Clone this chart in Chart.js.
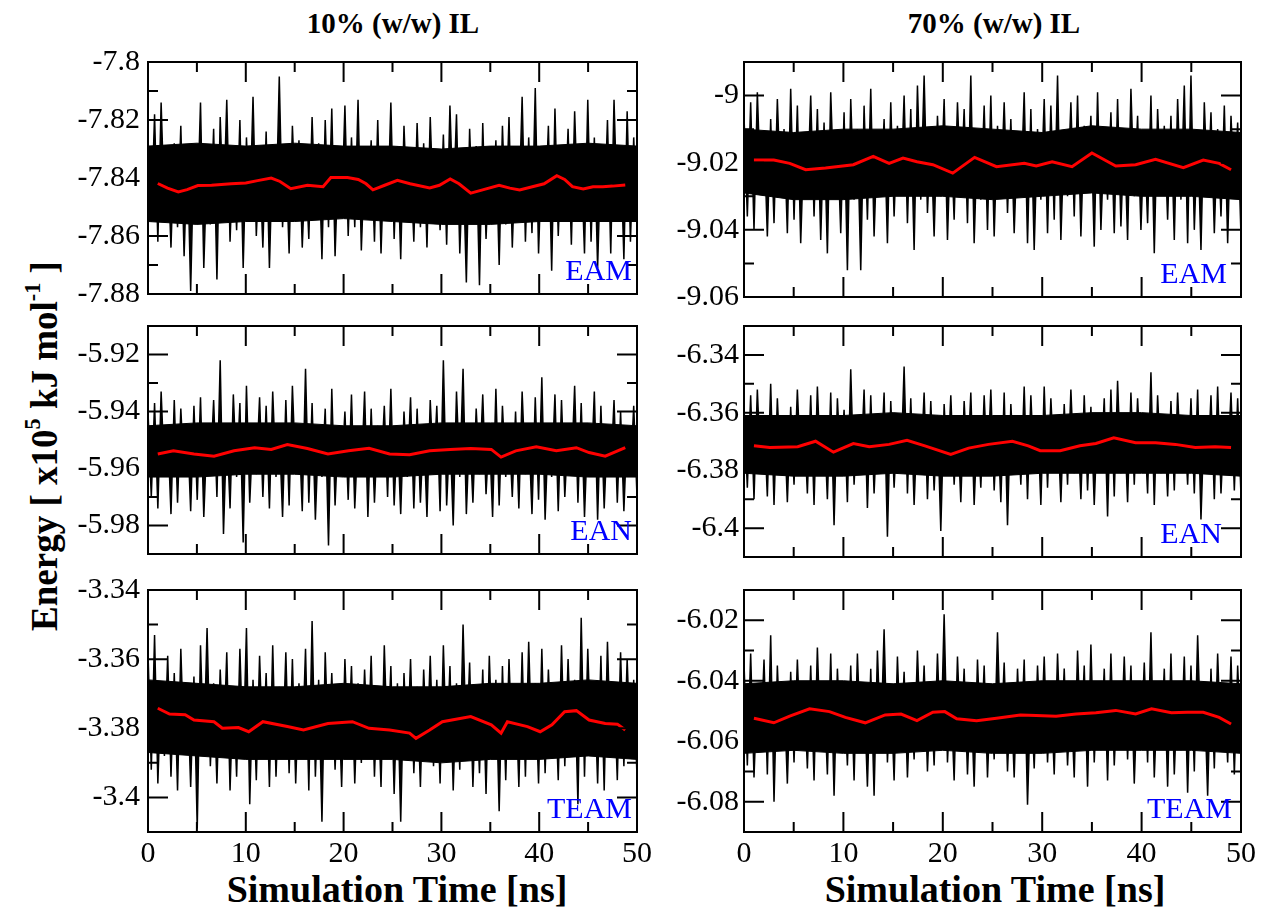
<!DOCTYPE html>
<html>
<head>
<meta charset="utf-8">
<script src="https://cdn.jsdelivr.net/npm/chart.js@4/dist/chart.umd.min.js"></script>
<style>
  html, body { margin: 0; padding: 0; background: #fff; }
  body { width: 1262px; height: 909px; position: relative; overflow: hidden; font-family: "Liberation Serif", "DejaVu Serif", serif; }
  canvas { position: absolute; }
  .txt { position: absolute; white-space: nowrap; line-height: 1; color: #000; font-weight: bold; }
  .col { font-size: 29px; top: 9px; transform: translateX(-50%); }
  .xt { font-size: 38px; top: 870px; transform: translateX(-50%); }
  #ylab { font-size: 37px; left: 44px; top: 446px; transform: translate(-50%, -50%) rotate(-90deg); }
  sup { font-size: 60%; vertical-align: 0.75em; line-height: 0; }
</style>
</head>
<body>
<div class="txt col" style="left:393px">10% (w/w) IL</div>
<div class="txt col" style="left:994px">70% (w/w) IL</div>
<div class="txt xt" style="left:397px">Simulation Time [ns]</div>
<div class="txt xt" style="left:995px">Simulation Time [ns]</div>
<div class="txt" id="ylab">Energy [ x10<sup>5</sup> kJ mol<sup>-1</sup> ]</div>

<script>
// x ticks (ns)
const xTicks = [0, 10, 20, 30, 40, 50];
// core band sample times (ns)
const coreT = [0, 5, 10, 15, 20, 25, 30, 35, 40, 45, 50];

// ---------- 10% EAM ----------
const yTicksTL = [-7.88, -7.86, -7.84, -7.82, -7.8];
const hiTL = [-7.826,-7.818,-7.814,-7.833,-7.828,-7.822,-7.831,-7.829,-7.814,-7.834,-7.823,-7.819,-7.813,-7.830,-7.820,-7.826,-7.812,-7.833,-7.824,-7.829,-7.805,-7.831,-7.822,-7.827,-7.834,-7.819,-7.828,-7.820,-7.816,-7.832,-7.815,-7.826,-7.813,-7.833,-7.827,-7.820,-7.831,-7.814,-7.829,-7.822,-7.834,-7.821,-7.828,-7.819,-7.832,-7.825,-7.815,-7.818,-7.833,-7.823,-7.829,-7.821,-7.834,-7.827,-7.822,-7.819,-7.831,-7.812,-7.826,-7.809,-7.832,-7.822,-7.816,-7.830,-7.823,-7.817,-7.833,-7.813,-7.826,-7.831,-7.820,-7.813,-7.829,-7.817,-7.826];
const loTL = [-7.855,-7.862,-7.851,-7.864,-7.857,-7.867,-7.879,-7.853,-7.871,-7.856,-7.875,-7.852,-7.862,-7.858,-7.871,-7.854,-7.860,-7.864,-7.871,-7.853,-7.857,-7.866,-7.851,-7.864,-7.861,-7.854,-7.868,-7.857,-7.867,-7.853,-7.860,-7.857,-7.865,-7.852,-7.862,-7.866,-7.854,-7.861,-7.868,-7.852,-7.862,-7.857,-7.864,-7.853,-7.858,-7.863,-7.851,-7.866,-7.876,-7.855,-7.877,-7.861,-7.853,-7.870,-7.856,-7.864,-7.852,-7.862,-7.859,-7.866,-7.853,-7.872,-7.860,-7.854,-7.863,-7.852,-7.866,-7.862,-7.871,-7.855,-7.866,-7.853,-7.868,-7.862,-7.856];
const coreHiTL = [-7.829,-7.828,-7.829,-7.828,-7.829,-7.829,-7.830,-7.829,-7.829,-7.828,-7.829];
const coreLoTL = [-7.855,-7.856,-7.855,-7.855,-7.854,-7.855,-7.856,-7.856,-7.855,-7.855,-7.855];
const avgTimeTL = [1,2,3.1,4,5.1,6.5,8.5,10,11.2,12.6,13.5,14.6,16.3,17.9,18.7,20.4,21.5,22.3,23,24.2,25.5,26.8,28.8,29.8,30.9,31.8,33,34.3,35.9,37,38,39.3,40.5,41.8,42.6,43.4,44.5,45.5,46.5,47.5,48.8];
const avgTL = [-7.8419,-7.8435,-7.8448,-7.8440,-7.8426,-7.8425,-7.8420,-7.8417,-7.8409,-7.8400,-7.8412,-7.8437,-7.8425,-7.8430,-7.8398,-7.8398,-7.8405,-7.8420,-7.8441,-7.8425,-7.8408,-7.8420,-7.8434,-7.8425,-7.8403,-7.8420,-7.8452,-7.8440,-7.8425,-7.8435,-7.8441,-7.8430,-7.8420,-7.8392,-7.8405,-7.8430,-7.8438,-7.8430,-7.8430,-7.8428,-7.8424];

// ---------- 70% EAM ----------
const yTicksTR = [-9.06, -9.04, -9.02, -9];
const hiTR = [-9.006,-9.002,-8.999,-9.011,-9.007,-9.001,-9.010,-8.998,-9.003,-9.012,-9.000,-9.004,-9.008,-8.999,-9.011,-9.005,-9.001,-9.010,-9.003,-8.998,-9.012,-9.007,-9.002,-9.009,-9.000,-9.004,-8.997,-8.994,-9.011,-9.006,-9.001,-9.010,-9.002,-9.004,-8.994,-9.011,-9.003,-9.000,-9.009,-9.002,-9.007,-9.012,-8.999,-9.004,-9.010,-9.001,-9.003,-8.994,-9.011,-9.002,-9.000,-9.009,-9.006,-8.999,-9.012,-9.005,-9.001,-9.010,-8.998,-9.006,-9.011,-9.000,-9.004,-9.009,-9.006,-9.001,-8.997,-8.994,-9.011,-9.002,-9.005,-9.010,-9.003,-9.006,-9.008];
const loTR = [-9.036,-9.040,-9.029,-9.042,-9.038,-9.030,-9.041,-9.037,-9.044,-9.030,-9.036,-9.043,-9.047,-9.029,-9.041,-9.052,-9.031,-9.052,-9.037,-9.042,-9.030,-9.044,-9.036,-9.029,-9.038,-9.046,-9.031,-9.035,-9.042,-9.030,-9.043,-9.037,-9.029,-9.038,-9.044,-9.031,-9.040,-9.042,-9.030,-9.035,-9.041,-9.029,-9.044,-9.046,-9.031,-9.041,-9.037,-9.043,-9.030,-9.036,-9.042,-9.029,-9.045,-9.040,-9.031,-9.041,-9.039,-9.043,-9.030,-9.040,-9.038,-9.047,-9.029,-9.037,-9.043,-9.031,-9.044,-9.040,-9.046,-9.030,-9.041,-9.036,-9.044,-9.029,-9.042];
const coreHiTR = [-9.010,-9.011,-9.010,-9.010,-9.009,-9.010,-9.011,-9.009,-9.010,-9.010,-9.011];
const coreLoTR = [-9.029,-9.031,-9.031,-9.030,-9.030,-9.031,-9.030,-9.029,-9.030,-9.030,-9.031];
const avgTimeTR = [1,3,4.6,6.2,8.2,11,13,14.6,16,17.4,19,21,23.2,25.4,28.2,29.4,31,33,35,37.4,39.4,41.4,44.2,46.2,47.8,49];
const avgTR = [-9.0192,-9.0192,-9.0202,-9.0221,-9.0216,-9.0206,-9.0181,-9.0202,-9.0186,-9.0197,-9.0206,-9.0231,-9.0184,-9.0212,-9.0202,-9.0210,-9.0197,-9.0212,-9.0171,-9.0210,-9.0206,-9.0190,-9.0215,-9.0192,-9.0202,-9.0221];

// ---------- 10% EAN ----------
const yTicksML = [-5.98, -5.96, -5.94, -5.92];
const hiML = [-5.940,-5.937,-5.933,-5.946,-5.936,-5.939,-5.945,-5.938,-5.935,-5.947,-5.936,-5.922,-5.945,-5.934,-5.937,-5.931,-5.946,-5.935,-5.938,-5.933,-5.946,-5.936,-5.931,-5.945,-5.925,-5.937,-5.946,-5.939,-5.932,-5.945,-5.940,-5.934,-5.947,-5.933,-5.939,-5.945,-5.938,-5.932,-5.946,-5.940,-5.935,-5.939,-5.945,-5.936,-5.938,-5.922,-5.946,-5.933,-5.925,-5.945,-5.939,-5.934,-5.947,-5.932,-5.938,-5.945,-5.940,-5.933,-5.946,-5.935,-5.928,-5.945,-5.934,-5.936,-5.946,-5.931,-5.937,-5.945,-5.933,-5.938,-5.946,-5.936,-5.940,-5.945,-5.938];
const loML = [-5.970,-5.974,-5.962,-5.976,-5.972,-5.963,-5.975,-5.971,-5.977,-5.962,-5.970,-5.983,-5.974,-5.963,-5.986,-5.972,-5.962,-5.970,-5.974,-5.963,-5.977,-5.973,-5.962,-5.975,-5.972,-5.978,-5.963,-5.987,-5.973,-5.962,-5.971,-5.974,-5.963,-5.977,-5.972,-5.962,-5.970,-5.973,-5.976,-5.963,-5.974,-5.972,-5.977,-5.962,-5.975,-5.973,-5.980,-5.963,-5.976,-5.972,-5.962,-5.969,-5.977,-5.973,-5.963,-5.970,-5.974,-5.962,-5.976,-5.971,-5.978,-5.963,-5.975,-5.970,-5.962,-5.972,-5.977,-5.963,-5.978,-5.974,-5.962,-5.972,-5.975,-5.963,-5.970];
const coreHiML = [-5.945,-5.944,-5.944,-5.944,-5.945,-5.945,-5.944,-5.944,-5.944,-5.944,-5.945];
const coreLoML = [-5.963,-5.963,-5.962,-5.962,-5.963,-5.963,-5.962,-5.962,-5.962,-5.963,-5.963];
const avgTimeML = [1,2.6,4.7,6.75,8.8,10.9,12.6,14.25,16.3,18.4,20.5,22.6,24.7,26.75,28.8,30.9,33,35.1,36.1,37.6,39.7,41.75,43.8,45.1,46.75,48.8];
const avgML = [-5.9549,-5.9538,-5.9549,-5.9557,-5.9538,-5.9527,-5.9533,-5.9516,-5.9530,-5.9549,-5.9538,-5.9529,-5.9549,-5.9552,-5.9538,-5.9533,-5.9530,-5.9533,-5.9560,-5.9538,-5.9524,-5.9538,-5.9527,-5.9544,-5.9557,-5.9527];

// ---------- 70% EAN ----------
const yTicksMR = [-6.4, -6.38, -6.36, -6.34];
const hiMR = [-6.358,-6.354,-6.352,-6.362,-6.350,-6.355,-6.361,-6.358,-6.352,-6.363,-6.354,-6.351,-6.362,-6.353,-6.355,-6.359,-6.345,-6.362,-6.352,-6.354,-6.361,-6.353,-6.356,-6.363,-6.344,-6.355,-6.362,-6.353,-6.356,-6.361,-6.357,-6.354,-6.362,-6.356,-6.353,-6.363,-6.354,-6.352,-6.361,-6.353,-6.357,-6.362,-6.351,-6.354,-6.361,-6.351,-6.355,-6.363,-6.357,-6.352,-6.362,-6.354,-6.358,-6.361,-6.355,-6.352,-6.349,-6.362,-6.353,-6.355,-6.363,-6.346,-6.354,-6.361,-6.356,-6.353,-6.362,-6.355,-6.352,-6.361,-6.354,-6.351,-6.362,-6.353,-6.355];
const loMR = [-6.386,-6.390,-6.380,-6.389,-6.392,-6.381,-6.391,-6.385,-6.380,-6.388,-6.392,-6.381,-6.390,-6.399,-6.380,-6.391,-6.385,-6.381,-6.393,-6.388,-6.380,-6.403,-6.386,-6.381,-6.388,-6.392,-6.380,-6.390,-6.387,-6.401,-6.381,-6.385,-6.391,-6.380,-6.392,-6.386,-6.381,-6.387,-6.391,-6.399,-6.380,-6.385,-6.390,-6.381,-6.392,-6.386,-6.380,-6.391,-6.385,-6.381,-6.390,-6.387,-6.392,-6.380,-6.396,-6.389,-6.381,-6.391,-6.385,-6.380,-6.388,-6.392,-6.381,-6.389,-6.387,-6.380,-6.385,-6.388,-6.397,-6.381,-6.390,-6.388,-6.380,-6.387,-6.389];
const coreHiMR = [-6.361,-6.361,-6.361,-6.360,-6.361,-6.361,-6.361,-6.360,-6.360,-6.361,-6.361];
const coreLoMR = [-6.381,-6.382,-6.382,-6.381,-6.382,-6.382,-6.381,-6.381,-6.381,-6.381,-6.382];
const avgTimeMR = [1,2.6,5.4,7.2,9,11,12.6,14.6,16.4,18.2,20.8,22.6,24.6,27,28.6,29.8,31.8,33.8,35.4,37.2,39.4,41.4,43.4,45.4,47.4,49];
const avgMR = [-6.3715,-6.3721,-6.3718,-6.3699,-6.3737,-6.3707,-6.3718,-6.3710,-6.3696,-6.3715,-6.3745,-6.3723,-6.3710,-6.3699,-6.3715,-6.3732,-6.3732,-6.3715,-6.3707,-6.3687,-6.3704,-6.3704,-6.3710,-6.3721,-6.3718,-6.3721];

// ---------- 10% TEAM ----------
const yTicksBL = [-3.4, -3.38, -3.36, -3.34];
const hiBL = [-3.358,-3.353,-3.367,-3.359,-3.364,-3.357,-3.368,-3.365,-3.356,-3.351,-3.367,-3.363,-3.358,-3.368,-3.357,-3.351,-3.366,-3.359,-3.364,-3.356,-3.368,-3.358,-3.360,-3.367,-3.357,-3.349,-3.366,-3.358,-3.364,-3.368,-3.360,-3.362,-3.367,-3.363,-3.359,-3.368,-3.356,-3.362,-3.367,-3.364,-3.360,-3.368,-3.363,-3.359,-3.366,-3.356,-3.362,-3.367,-3.350,-3.361,-3.368,-3.363,-3.359,-3.366,-3.362,-3.360,-3.368,-3.358,-3.355,-3.367,-3.357,-3.363,-3.368,-3.356,-3.360,-3.366,-3.348,-3.357,-3.367,-3.359,-3.355,-3.368,-3.358,-3.360,-3.366];
const loBL = [-3.392,-3.396,-3.388,-3.394,-3.398,-3.387,-3.397,-3.409,-3.388,-3.391,-3.396,-3.387,-3.398,-3.394,-3.388,-3.402,-3.395,-3.387,-3.397,-3.394,-3.388,-3.393,-3.396,-3.387,-3.398,-3.394,-3.407,-3.388,-3.392,-3.397,-3.387,-3.396,-3.390,-3.388,-3.394,-3.397,-3.387,-3.399,-3.407,-3.388,-3.393,-3.397,-3.387,-3.391,-3.396,-3.388,-3.398,-3.392,-3.387,-3.397,-3.393,-3.399,-3.388,-3.404,-3.395,-3.387,-3.397,-3.394,-3.388,-3.396,-3.393,-3.387,-3.395,-3.391,-3.388,-3.402,-3.394,-3.387,-3.396,-3.398,-3.388,-3.395,-3.391,-3.387,-3.394];
const coreHiBL = [-3.366,-3.367,-3.368,-3.368,-3.367,-3.368,-3.368,-3.367,-3.367,-3.366,-3.367];
const coreLoBL = [-3.387,-3.388,-3.389,-3.389,-3.389,-3.389,-3.390,-3.389,-3.389,-3.388,-3.389];
const avgTimeBL = [1,2.2,3.8,4.7,6.75,7.6,9.25,10.3,11.75,14.25,15.9,18.4,20.9,22.6,24.7,26.75,27.4,28.8,30.1,33,35.1,36.1,36.75,38.8,40.1,41.3,42.6,43.8,45.1,46.75,48,48.8];
const avgBL = [-3.3742,-3.3759,-3.3761,-3.3776,-3.3781,-3.3800,-3.3798,-3.3810,-3.3781,-3.3795,-3.3805,-3.3786,-3.3781,-3.3800,-3.3805,-3.3814,-3.3829,-3.3805,-3.3781,-3.3766,-3.3790,-3.3814,-3.3781,-3.3795,-3.3810,-3.3790,-3.3752,-3.3749,-3.3776,-3.3786,-3.3788,-3.3805];

// ---------- 70% TEAM ----------
const yTicksBR = [-6.08, -6.06, -6.04, -6.02];
const hiBR = [-6.034,-6.031,-6.042,-6.033,-6.025,-6.035,-6.043,-6.037,-6.033,-6.042,-6.035,-6.029,-6.043,-6.031,-6.036,-6.042,-6.035,-6.031,-6.043,-6.036,-6.030,-6.023,-6.042,-6.032,-6.037,-6.043,-6.030,-6.035,-6.042,-6.031,-6.018,-6.043,-6.032,-6.036,-6.042,-6.033,-6.035,-6.043,-6.024,-6.034,-6.042,-6.036,-6.033,-6.043,-6.035,-6.032,-6.042,-6.031,-6.036,-6.043,-6.030,-6.035,-6.028,-6.042,-6.036,-6.031,-6.043,-6.032,-6.035,-6.042,-6.034,-6.024,-6.043,-6.036,-6.031,-6.042,-6.032,-6.035,-6.025,-6.043,-6.036,-6.031,-6.042,-6.032,-6.035];
const loBR = [-6.068,-6.072,-6.062,-6.071,-6.080,-6.063,-6.074,-6.067,-6.062,-6.069,-6.073,-6.063,-6.071,-6.078,-6.062,-6.068,-6.073,-6.063,-6.075,-6.078,-6.062,-6.067,-6.073,-6.063,-6.072,-6.066,-6.062,-6.070,-6.068,-6.063,-6.067,-6.073,-6.062,-6.071,-6.075,-6.063,-6.072,-6.066,-6.062,-6.070,-6.072,-6.063,-6.081,-6.069,-6.062,-6.067,-6.071,-6.063,-6.068,-6.072,-6.062,-6.075,-6.067,-6.063,-6.073,-6.068,-6.062,-6.066,-6.074,-6.063,-6.067,-6.072,-6.062,-6.075,-6.071,-6.063,-6.077,-6.070,-6.062,-6.078,-6.069,-6.063,-6.067,-6.071,-6.062];
const coreHiBR = [-6.041,-6.040,-6.040,-6.041,-6.040,-6.041,-6.040,-6.040,-6.040,-6.040,-6.041];
const coreLoBR = [-6.064,-6.063,-6.064,-6.064,-6.063,-6.064,-6.064,-6.063,-6.063,-6.063,-6.064];
const avgTimeBR = [1,3,4.6,6.6,8.6,10.2,12.2,14.2,15.8,17.4,19,20.2,21.4,23.4,25.4,27.8,29.4,31.4,33.4,35.4,37.4,39.4,41,43,44.6,46.2,47.8,49];
const avgBR = [-6.0524,-6.0539,-6.0517,-6.0493,-6.0502,-6.0521,-6.0539,-6.0513,-6.0510,-6.0532,-6.0504,-6.0502,-6.0526,-6.0532,-6.0524,-6.0513,-6.0515,-6.0517,-6.0510,-6.0506,-6.0498,-6.0510,-6.0493,-6.0506,-6.0504,-6.0504,-6.0521,-6.0543];

const panels = [
  { name: "EAM",  hi: hiTL, lo: loTL, cHi: coreHiTL, cLo: coreLoTL, at: avgTimeTL, av: avgTL, ticks: yTicksTL, base: -7.842, min: -7.88, max: -7.80, col: 0, row: 0, inset: 5 },
  { name: "EAM",  hi: hiTR, lo: loTR, cHi: coreHiTR, cLo: coreLoTR, at: avgTimeTR, av: avgTR, ticks: yTicksTR, base: -9.020, min: -9.06, max: -8.99, col: 1, row: 0, inset: 14 },
  { name: "EAN",  hi: hiML, lo: loML, cHi: coreHiML, cLo: coreLoML, at: avgTimeML, av: avgML, ticks: yTicksML, base: -5.954, min: -5.99, max: -5.91, col: 0, row: 1, inset: 5 },
  { name: "EAN",  hi: hiMR, lo: loMR, cHi: coreHiMR, cLo: coreLoMR, at: avgTimeMR, av: avgMR, ticks: yTicksMR, base: -6.371, min: -6.41, max: -6.33, col: 1, row: 1, inset: 19 },
  { name: "TEAM", hi: hiBL, lo: loBL, cHi: coreHiBL, cLo: coreLoBL, at: avgTimeBL, av: avgBL, ticks: yTicksBL, base: -3.378, min: -3.41, max: -3.34, col: 0, row: 2, inset: 5 },
  { name: "TEAM", hi: hiBR, lo: loBR, cHi: coreHiBR, cLo: coreLoBR, at: avgTimeBR, av: avgBR, ticks: yTicksBR, base: -6.052, min: -6.09, max: -6.01, col: 1, row: 2, inset: 9 }
];

// canvas placement
const cols = [
  { left: 50,  width: 607, axisW: 98, padR: 20 },
  { left: 650, width: 612, axisW: 94, padR: 21 }
];
const rows = [
  { top: 30,  height: 290, padT: 32, padB: 17 },
  { top: 300, height: 280, padT: 26, padB: 13 },
  { top: 560, height: 349, padT: 30, padB: 0 }
];

const tickFont = { family: "'Liberation Serif', serif", size: 30 };

// frame, inside ticks and the panel name
const framePlugin = {
  id: "frame",
  afterDatasetsDraw(chart) {
    const { ctx, chartArea: a, scales: { x, y } } = chart;
    const p = chart.options.plugins.frame;
    ctx.save();
    ctx.strokeStyle = "#000";
    ctx.lineWidth = 2;
    ctx.beginPath();
    for (let t = 0; t <= 50; t += 5) {
      const px = x.getPixelForValue(t);
      const len = t % 10 === 0 ? 20 : 10;
      ctx.moveTo(px, a.bottom); ctx.lineTo(px, a.bottom - len);
      ctx.moveTo(px, a.top); ctx.lineTo(px, a.top + len);
    }
    const n = Math.round((p.max - p.min) / 0.01);
    for (let i = 0; i <= n; i++) {
      const v = p.min + i * 0.01;
      const major = p.ticks.some(t => Math.abs(t - v) < 1e-6);
      const py = y.getPixelForValue(v);
      const len = major ? 20 : 10;
      ctx.moveTo(a.left, py); ctx.lineTo(a.left + len, py);
      ctx.moveTo(a.right, py); ctx.lineTo(a.right - len, py);
    }
    ctx.stroke();
    ctx.strokeRect(a.left, a.top, a.right - a.left, a.bottom - a.top);
    ctx.fillStyle = "#0000ff";
    ctx.font = "30px 'Liberation Serif', serif";
    ctx.textAlign = "right";
    ctx.textBaseline = "alphabetic";
    ctx.fillText(p.name, a.right - p.inset, a.bottom - 14);
    ctx.restore();
  }
};

panels.forEach((p) => {
  const c = cols[p.col], r = rows[p.row];
  const cv = document.createElement("canvas");
  cv.width = c.width; cv.height = r.height;
  cv.style.left = c.left + "px"; cv.style.top = r.top + "px";
  cv.style.width = c.width + "px"; cv.style.height = r.height + "px";
  document.body.appendChild(cv);

  // raw trace: upper and lower excursions taken in turn along the time axis
  const vals = [];
  const m = Math.max(p.hi.length, p.lo.length);
  for (let i = 0; i < m; i++) {
    if (i < p.hi.length) vals.push(p.hi[i]);
    if (i < p.lo.length) vals.push(p.lo[i]);
  }
  const trace = vals.map((v, k) => ({ x: k * 50 / (vals.length - 1), y: v }));
  const avg = p.at.map((t, i) => ({ x: t, y: p.av[i] }));
  const cHi = coreT.map((t, i) => ({ x: t, y: p.cHi[i] }));
  const cLo = coreT.map((t, i) => ({ x: t, y: p.cLo[i] }));

  const bottomRow = p.row === 2;
  new Chart(cv, {
    type: "line",
    data: {
      datasets: [
        { data: avg, borderColor: "#ff0000", borderWidth: 3, pointRadius: 0, fill: false, tension: 0 },
        { data: trace, borderColor: "#000", borderWidth: 1.5, pointRadius: 0, tension: 0,
          fill: { value: p.base }, backgroundColor: "#000" },
        { data: cHi, borderColor: "#000", borderWidth: 1, pointRadius: 0, fill: false },
        { data: cLo, borderColor: "#000", borderWidth: 1, pointRadius: 0, fill: "-1", backgroundColor: "#000" }
      ]
    },
    options: {
      responsive: false,
      animation: false,
      events: [],
      layout: { padding: { top: r.padT, bottom: r.padB, left: 0, right: c.padR } },
      scales: {
        x: {
          type: "linear", min: 0, max: 50,
          display: bottomRow,
          grid: { display: false, drawTicks: false },
          border: { display: false },
          afterBuildTicks: (axis) => { axis.ticks = xTicks.map(v => ({ value: v })); },
          afterFit: (axis) => { if (bottomRow) axis.height = 77; },
          ticks: { font: tickFont, color: "#000", padding: 4, maxRotation: 0, autoSkip: false }
        },
        y: {
          min: p.min, max: p.max,
          grid: { display: false, drawTicks: false },
          border: { display: false },
          afterBuildTicks: (axis) => { axis.ticks = p.ticks.map(v => ({ value: v })); },
          afterFit: (axis) => { axis.width = c.axisW; },
          ticks: { font: tickFont, color: "#000", padding: p.col === 0 ? 8 : 5, autoSkip: false, callback: (v) => String(v) }
        }
      },
      plugins: {
        legend: { display: false },
        tooltip: { enabled: false },
        frame: { name: p.name, inset: p.inset, ticks: p.ticks, min: p.min, max: p.max }
      }
    },
    plugins: [framePlugin]
  });
});
</script>
</body>
</html>
